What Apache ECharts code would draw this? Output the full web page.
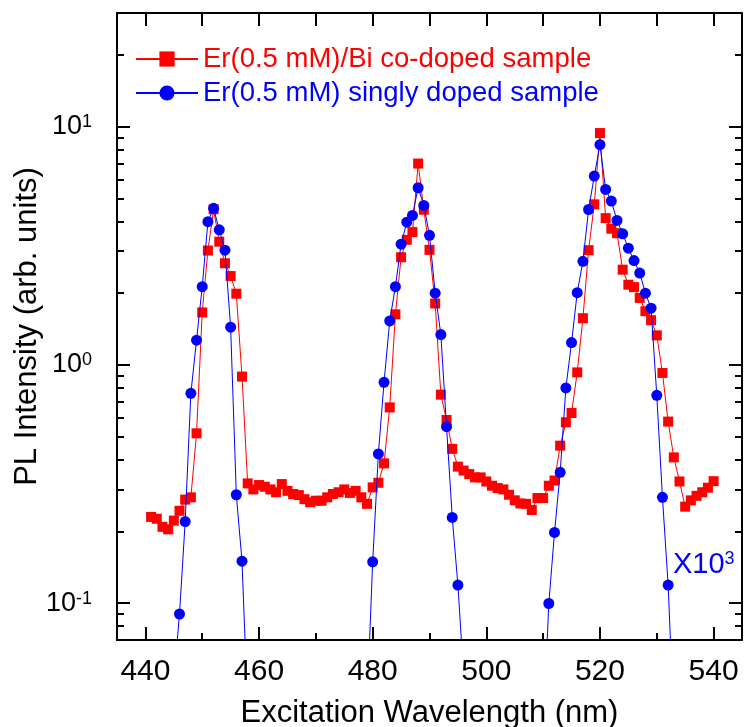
<!DOCTYPE html>
<html><head><meta charset="utf-8">
<script src="https://cdn.jsdelivr.net/npm/echarts@6/dist/echarts.min.js"></script>
<style>html,body{margin:0;padding:0;background:#fff}#c{width:744px;height:727px}</style>
</head><body><div id="c"></div>
<script>
// ---- data ----
const wavelengths = [441,442,443,444,445,446,447,448,449,450,451,452,453,454,455,456,457,458,459,460,
  461,462,463,464,465,466,467,468,469,470,471,472,473,474,475,476,477,478,479,480,
  481,482,483,484,485,486,487,488,489,490,491,492,493,494,495,496,497,498,499,500,
  501,502,503,504,505,506,507,508,509,510,511,512,513,514,515,516,517,518,519,520,
  521,522,523,524,525,526,527,528,529,530,531,532,533,534,535,536,537,538,539,540];
const coDoped = [0.23,0.226,0.209,0.204,0.222,0.244,0.272,0.278,0.516,1.66,
  3.02,4.5,3.29,2.67,2.36,1.99,0.893,0.318,0.30,0.313,
  0.308,0.30,0.292,0.316,0.296,0.287,0.284,0.273,0.265,0.269,
  0.269,0.278,0.287,0.292,0.30,0.29,0.296,0.278,0.261,0.306,
  0.32,0.386,0.663,1.63,2.83,3.35,3.61,7.0,4.48,3.04,
  1.81,0.75,0.587,0.444,0.374,0.36,0.348,0.337,0.337,0.324,
  0.311,0.304,0.30,0.285,0.27,0.262,0.261,0.246,0.276,0.276,
  0.311,0.327,0.458,0.574,0.628,0.93,1.57,3.03,4.72,9.4,
  4.13,3.73,3.57,2.51,2.17,2.12,1.91,1.68,1.54,1.33,
  0.925,0.578,0.409,0.324,0.254,0.27,0.282,0.292,0.305,0.325];
const singlyWavelengths = [445,446,447,448,449,450,451,452,453,454,455,456,457,458,
  468,
  479,480,481,482,483,484,485,486,487,488,489,490,491,492,493,494,495,496,
  503,
  510,511,512,513,514,515,516,517,518,519,520,521,522,523,524,525,526,527,528,529,530,531,532,533];
const singlyDoped = [0.047,0.09,0.22,0.76,1.27,2.13,3.99,4.54,3.69,3.03,1.44,0.285,0.150,0.036,
  null,
  0.037,0.149,0.423,0.845,1.53,2.13,3.21,3.97,4.24,5.54,4.67,3.5,2.0,1.34,0.55,0.229,0.119,0.05,
  null,
  0.029,0.0996,0.198,0.354,0.80,1.24,2.01,2.72,4.49,6.2,8.4,5.45,4.87,4.04,3.55,3.09,2.74,2.43,2.0,1.73,0.745,0.278,0.119,0.032];
const seriesNames = ['Er(0.5 mM)/Bi co-doped sample', 'Er(0.5 mM) singly doped sample'];
const xTickLabels = [440,460,480,500,520,540];
const xMinorTicks = [450,470,490,510,530];
const xTopTicks = [440,450,460,470,480,490,500,510,520,530,540];
const yMajorTicks = [0.1,1,10];
const yMinorTicks = [0.08,0.09,0.2,0.3,0.4,0.5,0.6,0.7,0.8,0.9,2,3,4,5,6,7,8,9,20];
const xTitle = 'Excitation Wavelength (nm)';
const yTitle = 'PL Intensity (arb. units)';

// ---- chart ----
const FONT = '"Liberation Sans", Arial, sans-serif';
const RED = '#ff0000', BLUE = '#0000ff';
const chart = echarts.init(document.getElementById('c'), null, {renderer: 'canvas'});

function xAx(extra) {
  return Object.assign({
    type: 'value', min: 435, max: 545, gridIndex: 0,
    axisLine: {show: false, onZero: false},
    splitLine: {show: false},
    axisLabel: {show: false},
    axisTick: {show: false}
  }, extra);
}
function yAx(extra) {
  return Object.assign({
    type: 'log', logBase: 10, min: 0.07, max: 30, gridIndex: 0,
    axisLine: {show: false, onZero: false},
    splitLine: {show: false},
    minorTick: {show: false},
    axisLabel: {show: false},
    axisTick: {show: false}
  }, extra);
}
const frameLine = {show: true, onZero: false, lineStyle: {color: '#000', width: 2}};

const option = {
  animation: false,
  backgroundColor: '#fff',
  grid: {left: 117, right: 2, top: 13, bottom: 87, containLabel: false, outerBoundsMode: 'none'},
  legend: {
    orient: 'vertical', left: 135, top: 45, padding: 0,
    itemWidth: 62, itemHeight: 19, itemGap: 6,
    textStyle: {fontSize: 27.5, fontFamily: FONT},
    data: [
      {name: seriesNames[0], textStyle: {color: RED}},
      {name: seriesNames[1], textStyle: {color: BLUE}}
    ]
  },
  xAxis: [
    xAx({
      position: 'bottom',
      axisLine: frameLine,
      axisTick: {show: true, inside: true, length: 13, customValues: xTickLabels, lineStyle: {color: '#000', width: 2}},
      axisLabel: {show: true, customValues: xTickLabels, fontSize: 30, fontFamily: FONT, color: '#000', margin: 17},
      name: xTitle, nameLocation: 'middle', nameGap: 58, nameMoveOverlap: false,
      nameTextStyle: {fontSize: 31, fontFamily: FONT, color: '#000'}
    }),
    xAx({
      position: 'bottom',
      axisTick: {show: true, inside: true, length: 7, customValues: xMinorTicks, lineStyle: {color: '#000', width: 2}}
    }),
    xAx({
      position: 'top',
      axisLine: frameLine,
      axisTick: {show: true, inside: true, length: 13, customValues: xTopTicks, lineStyle: {color: '#000', width: 2}}
    })
  ],
  yAxis: [
    yAx({
      position: 'left',
      axisLine: frameLine,
      axisTick: {show: true, inside: true, length: 13, customValues: yMajorTicks, lineStyle: {color: '#000', width: 2}},
      axisLabel: {
        show: true, customValues: yMajorTicks, margin: 25, color: '#000',
        fontSize: 27, fontFamily: FONT,
        formatter: function (v) { return '10{s|' + Math.round(Math.log10(v)) + '}'; },
        rich: {s: {fontSize: 18, fontFamily: FONT, color: '#000', verticalAlign: 'top', lineHeight: 18}}
      },
      name: yTitle, nameLocation: 'middle', nameGap: 74, nameMoveOverlap: false,
      nameTextStyle: {fontSize: 31, fontFamily: FONT, color: '#000'}
    }),
    yAx({
      position: 'left',
      axisTick: {show: true, inside: true, length: 7, customValues: yMinorTicks, lineStyle: {color: '#000', width: 2}}
    }),
    yAx({
      position: 'right',
      axisLine: frameLine,
      axisTick: {show: true, inside: true, length: 13, customValues: yMajorTicks, lineStyle: {color: '#000', width: 2}}
    }),
    yAx({
      position: 'right',
      axisTick: {show: true, inside: true, length: 7, customValues: yMinorTicks, lineStyle: {color: '#000', width: 2}}
    })
  ],
  series: [
    {
      name: seriesNames[0], type: 'line', xAxisIndex: 0, yAxisIndex: 0,
      data: wavelengths.map((x, i) => [x, coDoped[i]]),
      symbol: 'rect', symbolSize: 10, showAllSymbol: true,
      itemStyle: {color: RED}, lineStyle: {color: RED, width: 1}, z: 2
    },
    {
      name: seriesNames[1], type: 'line', xAxisIndex: 0, yAxisIndex: 0,
      data: singlyWavelengths.map((x, i) => [x, singlyDoped[i]]),
      connectNulls: false,
      symbol: 'circle', symbolSize: 11, showAllSymbol: true,
      itemStyle: {color: BLUE}, lineStyle: {color: BLUE, width: 1}, z: 3
    }
  ],
  graphic: [{
    type: 'text', left: 673, top: 550, z: 10,
    style: {
      text: 'X10{s|3}', fill: BLUE, fontSize: 29, fontFamily: FONT,
      rich: {s: {fontSize: 18, fontFamily: FONT, fill: BLUE, verticalAlign: 'top', lineHeight: 18}}
    }
  }]
};
chart.setOption(option);
</script>
</body></html>
